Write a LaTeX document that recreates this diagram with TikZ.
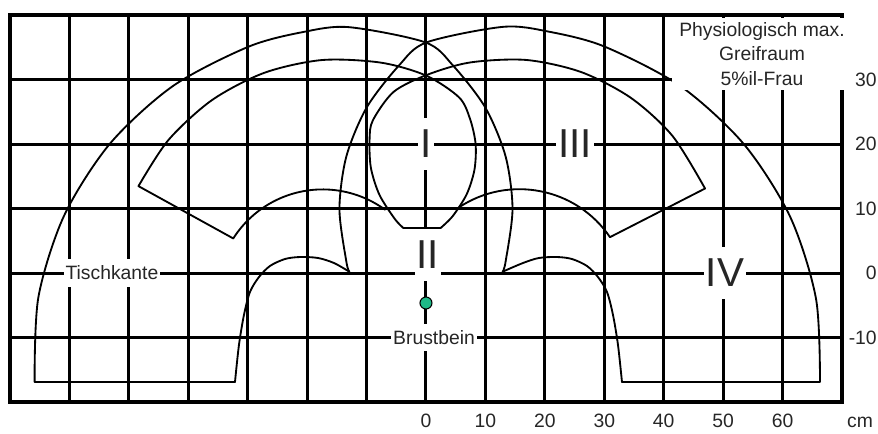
\documentclass[tikz,border=0pt]{standalone}
\usepackage{fontspec}
\setmainfont{Liberation Sans}
\definecolor{dotgreen}{RGB}{30,185,135}

\begin{document}
\begin{tikzpicture}[x=0.11886cm, y=0.129cm,
  gridline/.style={line width=1.7pt},
  frame/.style={line width=2.3pt},
  curve/.style={line width=1.05pt, line join=round, line cap=round},
  roman/.style={fill=white, inner xsep=0.04cm, inner ysep=0.24cm, text=black!85,
                font=\fontsize{23}{26}\selectfont},
  lbl/.style={fill=white, inner xsep=0.04cm, inner ysep=0.13cm, text=black!85,
              font=\fontsize{11}{13}\selectfont},
  axis/.style={inner sep=0pt, text=black!85, font=\fontsize{11}{13}\selectfont},
]
\useasboundingbox (-71.68,-24.81) rectangle (76.06,42.33);

% --- Grid ---
\foreach \x in {-60,-50,...,60}
  \draw[gridline] (\x,-20) -- (\x,40);
\foreach \y in {-10,0,...,30}
  \draw[gridline] (-70,\y) -- (70,\y);
\draw[frame] (-70,-20) rectangle (70,40);

% --- Outer reach (left and right arch) ---
\draw[curve] (-32.14,-16.9) -- plot[smooth] coordinates {(-65.86,-16.9) (-65.22,-3.75)
  (-60.90,8.88) (-53.19,20.04) (-42.60,28.98) (-29.86,35.09) (-20.59,37.38)
  (-12.96,38.12) (-0.10,35.76) (4.55,32.17) (9.98,25.66) (13.40,18.07) (14.56,9.92)
  (13.40,1.77) (12.89,0.2)};
\draw[curve] (32.98,-16.9) -- plot[smooth] coordinates {(66.30,-16.9) (65.63,-3.99)
  (61.28,8.72) (53.51,19.96) (42.84,28.97) (30.01,35.12) (20.68,37.42)
  (12.99,38.17) (0.10,35.76) (-4.55,32.17) (-9.98,25.66) (-13.40,18.07) (-14.56,9.92)
  (-13.40,1.77) (-12.89,0.2)};

% --- Lower shoulders ---
\draw[curve] plot[smooth] coordinates {(-32.14,-16.9) (-31.47,-11.16) (-30.63,-6.51)
  (-29.62,-2.95) (-28.10,-0.62) (-26.25,1.09) (-23.73,2.17) (-21.20,2.48)
  (-18.17,2.33) (-15.48,1.55) (-12.89,0.2)};
\draw[curve] plot[smooth] coordinates {(32.98,-16.9) (32.31,-11.16) (31.47,-6.51)
  (30.46,-2.95) (28.94,-0.62) (27.09,1.09) (24.57,2.17) (22.04,2.48)
  (19.01,2.33) (16.32,1.55) (12.89,0.2)};

% --- Inner arcs, wings and zone I ---
\draw[curve] (-32.43,5.36) -- plot[smooth] coordinates {(-48.38,13.47) (-43.33,20.63)
  (-36.01,26.81) (-27.21,31.04) (-17.51,33.02) (-7.60,32.62) (0.05,30.60) (5.58,27.22)
  (7.41,23.90) (8.35,20.01) (8.16,16.03) (6.86,12.23) (4.53,8.86) (2.49,7)};
\draw[curve] (30.96,5.56) -- plot[smooth] coordinates {(46.96,13.10) (41.49,21.24)
  (34.52,27.13) (26.13,31.15) (16.91,33.03) (7.46,32.65) (0.19,30.73) (-5.44,28.09)
  (-8.93,23.69) (-9.49,20.78) (-9.28,16.36) (-7.84,12.14) (-5.26,8.40) (-3.83,7)};
\draw[curve] (-3.83,7) -- (2.49,7);

% --- Upper shoulders ---
\draw[curve] (-32.43,5.36) arc[start angle=147.5, end angle=54, x radius=17.84, y radius=16.43];
\draw[curve] (30.96,5.56) arc[start angle=34.2, end angle=123.5, x radius=18.43, y radius=16.98];

% --- Zones ---
\node[roman] (zoneI)   at (0,20)      {I};
\node[roman] (zoneII)  at (0.3,2.8)   {II};
\node[roman] (zoneIII) at (25.07,20)  {III};
\node[roman] (zoneIV)  at (50.3,0)    {IV};

% --- Labels ---
\node[lbl] (tisch) at (-52.84,0) {Tischkante};
\node[lbl] (brust) at (1.35,-10) {Brustbein};
\node[draw, circle, fill=dotgreen, inner sep=0pt, minimum size=0.24cm,
      line width=0.6pt] (sternum) at (0,-4.65) {};

\node[fill=white, inner sep=0pt, minimum width=3.6cm, minimum height=1.44cm,
      align=center, text=black!85, font=\fontsize{11}{13.7}\selectfont]
  (reach) at (56.54,33.95) {Physiologisch max.\\Greifraum\\5\%il-Frau};
\draw[frame] (-70,40) -- (70,40);

% --- Axes ---
\foreach \y in {30,20,10,0,-10}
  \node[axis, anchor=east] (ylab\y) at (75.9,\y) {\y};
\foreach \x in {0,10,...,60}
  \node[axis, anchor=base] (xlab\x) at (\x,-24.03) {\x};
\node[axis, anchor=base] (unit) at (73.03,-24.03) {cm};

\end{tikzpicture}
\end{document}
